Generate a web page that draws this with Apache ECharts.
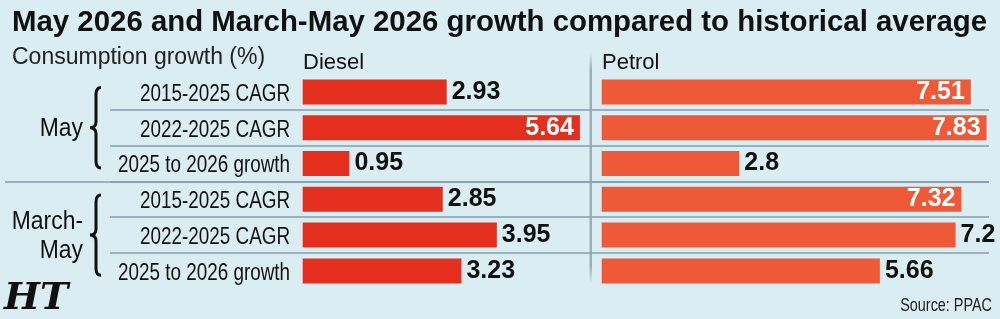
<!DOCTYPE html>
<html><head><meta charset="utf-8">
<script src="https://cdn.jsdelivr.net/npm/echarts@6/dist/echarts.min.js"></script>
<style>html,body{margin:0;padding:0;background:#daedf2}#c{width:1000px;height:319px}</style>
</head><body><div id="c"></div>
<script>
// ---- data ----
const titleText = 'May 2026 and March-May 2026 growth compared to historical average';
const subtitleText = 'Consumption growth (%)';
const seriesNames = ['Diesel', 'Petrol'];
const groups = ['May', 'March-May'];
const categories = ['2015-2025 CAGR', '2022-2025 CAGR', '2025 to 2026 growth',
                    '2015-2025 CAGR', '2022-2025 CAGR', '2025 to 2026 growth'];
const diesel = [2.93, 5.64, 0.95, 2.85, 3.95, 3.23];
const petrol = [7.51, 7.83, 2.8, 7.32, 7.2, 5.66];
const sourceText = 'Source: PPAC';
const logoText = 'HT';

// ---- styling ----
const SANS = "'Liberation Sans',Arial,sans-serif";
const BG = '#daedf2', INK = '#111111', LINE = '#869dab';
const DIESEL = '#e42f1f', PETROL = '#ee5a37';
const TOP = 74, H = 214.8;
const DMAX = 6, PMAX = 8;

const chart = echarts.init(document.getElementById('c'), null, {renderer: 'canvas'});

function barSeries(name, data, idx, color, max) {
  return {
    name, type: 'bar', xAxisIndex: idx, yAxisIndex: idx, barWidth: 25,
    itemStyle: {color}, silent: true,
    label: {show: true, fontFamily: SANS, fontWeight: 'bold', fontSize: 25},
    data: data.map(v => {
      const inside = v / max > 0.905;
      return {value: v, label: {
        position: inside ? 'insideRight' : 'right',
        color: inside ? '#ffffff' : INK,
        distance: inside ? 6 : 5
      }};
    })
  };
}

const hiddenX = (max, gi) => ({type: 'value', gridIndex: gi, min: 0, max,
  show: false, splitLine: {show: false}});
const baseY = gi => ({type: 'category', gridIndex: gi, inverse: true,
  axisLine: {show: false}, axisTick: {show: false}, axisLabel: {show: false}});

// condensed text helper (scaled horizontally around its anchor)
const narrowText = (text, x, y, size, sx, align, lh) => ({
  type: 'text', x, y, scaleX: sx, scaleY: 1,
  style: {text, fill: INK, font: `normal ${size}px ${SANS}`, align, verticalAlign: 'middle',
          lineHeight: lh || size * 1.1}
});

const option = {
  backgroundColor: BG,
  animation: false,
  title: [
    {text: titleText, left: 12, top: 8, padding: 0,
     textStyle: {fontFamily: SANS, fontWeight: 'bold', fontSize: 29.4, lineHeight: 30, color: INK}},
    {text: subtitleText, left: 12, top: 46, padding: 0,
     textStyle: {fontFamily: SANS, fontWeight: 'normal', fontSize: 23, lineHeight: 24, color: '#222'}},
    {text: seriesNames[0], left: 303, top: 51, padding: 0,
     textStyle: {fontFamily: SANS, fontWeight: 'normal', fontSize: 22, lineHeight: 24, color: INK}},
    {text: seriesNames[1], left: 602, top: 51, padding: 0,
     textStyle: {fontFamily: SANS, fontWeight: 'normal', fontSize: 22, lineHeight: 24, color: INK}},
    {text: logoText, left: 4, top: 279, padding: 0,
     textStyle: {fontFamily: "'DejaVu Serif',serif", fontWeight: 'bold', fontStyle: 'italic', fontSize: 38, lineHeight: 40, color: INK}}
  ],
  grid: [
    {left: 302.7, top: TOP, width: DMAX * 49.15, height: H},
    {left: 601.7, top: TOP, width: PMAX * 49.15, height: H},
    {left: 110, right: 11, top: TOP, height: H},
    {left: 5, right: 11, top: TOP, height: H}
  ],
  xAxis: [hiddenX(DMAX, 0), hiddenX(PMAX, 1), hiddenX(1, 2), hiddenX(1, 3)],
  yAxis: [
    Object.assign(baseY(0), {data: categories, splitLine: {show: false}}),
    Object.assign(baseY(1), {data: categories, splitLine: {show: false}}),
    Object.assign(baseY(2), {data: categories,
      splitLine: {show: true, showMinLine: false, showMaxLine: false, lineStyle: {color: LINE, width: 1.5}}}),
    Object.assign(baseY(3), {data: groups,
      splitLine: {show: true, showMinLine: false, showMaxLine: false, lineStyle: {color: LINE, width: 1.5}}})
  ],
  graphic: [
    {type: 'rect', silent: true, z: 1, shape: {x: 589.5, y: 52, width: 2.5, height: 232},
     style: {fill: new echarts.graphic.LinearGradient(0, 0, 0, 1, [
       {offset: 0, color: 'rgba(150,166,176,0)'},
       {offset: 0.08, color: 'rgba(150,166,176,0.9)'},
       {offset: 0.92, color: 'rgba(150,166,176,0.9)'},
       {offset: 1, color: 'rgba(150,166,176,0)'}])}},
    {type: 'text', silent: true, right: 8, top: 297, scaleX: 0.8,
     style: {text: sourceText, fill: '#222', font: `normal 18px ${SANS}`}}
  ],
  series: [
    barSeries(seriesNames[0], diesel, 0, DIESEL, DMAX),
    barSeries(seriesNames[1], petrol, 1, PETROL, PMAX),
    // category labels, condensed
    {
      type: 'custom', xAxisIndex: 0, yAxisIndex: 0, silent: true,
      data: categories.map((c, i) => [0, i]),
      renderItem: (params, api) => {
        const cy = api.coord([0, api.value(1)])[1];
        return narrowText(categories[params.dataIndex], params.coordSys.x - 12.7, cy + 2.5, 23, 0.82, 'right');
      }
    },
    // group labels and braces
    {
      type: 'custom', xAxisIndex: 3, yAxisIndex: 3, silent: true,
      data: groups.map((g, i) => [0, i]),
      renderItem: (params, api) => {
        const cy = api.coord([0, api.value(1)])[1];
        const h = api.size([0, 1])[1];
        const top = cy - h / 2 + 13.5, bot = cy + h / 2 - 13.5;
        const x0 = params.coordSys.x;
        const stem = x0 + 91, tip = x0 + 85, end = x0 + 96;
        const path = `M${end} ${top} Q${stem} ${top} ${stem} ${top + 7} L${stem} ${cy - 6} ` +
          `Q${stem} ${cy} ${tip} ${cy} Q${stem} ${cy} ${stem} ${cy + 6} L${stem} ${bot - 7} ` +
          `Q${stem} ${bot} ${end} ${bot}`;
        const label = groups[params.dataIndex].replace('-', '-\n');
        return {type: 'group', children: [
          {type: 'path', shape: {pathData: path}, style: {stroke: INK, lineWidth: 3, fill: null}},
          narrowText(label, x0 + 78, cy + 1, 26, 0.88, 'right', 29)
        ]};
      }
    }
  ]
};
chart.setOption(option);
</script></body></html>
